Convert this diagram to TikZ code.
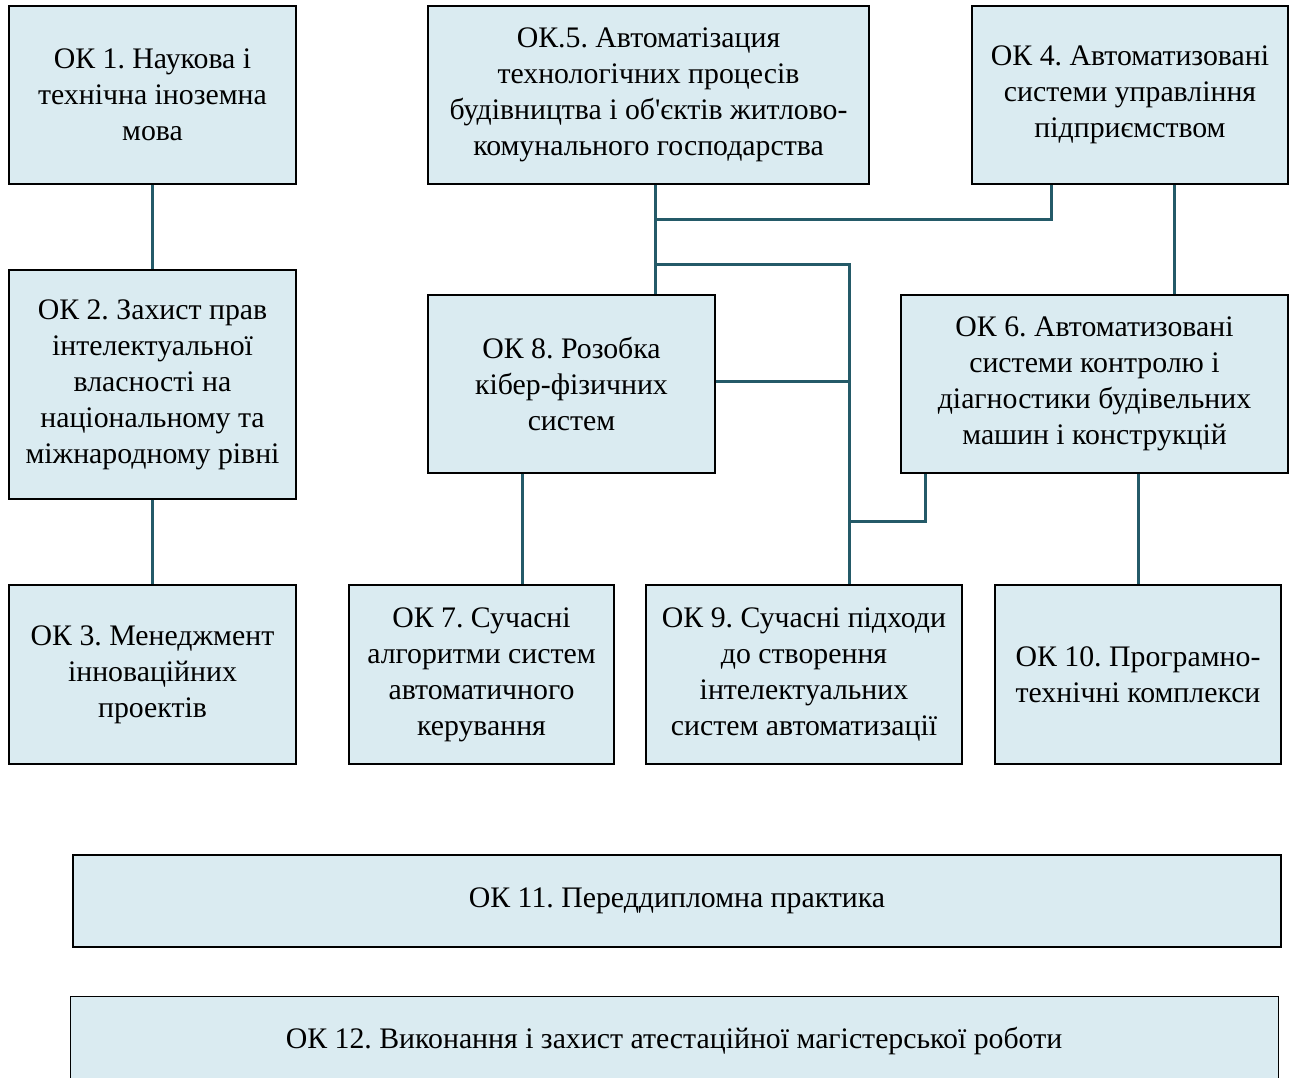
\documentclass[tikz,border=0pt]{standalone}
\usepackage{fontspec}
\setmainfont{Liberation Serif}[Ligatures=TeXOff]
\definecolor{boxfill}{RGB}{218,235,241}
\definecolor{conn}{RGB}{36,90,104}
\begin{document}
\frenchspacing
\begin{tikzpicture}[x=1pt,y=-1pt,
  box/.style={draw=black,line width=1.3pt,fill=boxfill,inner sep=0pt,align=center,
    font=\fontsize{29.8}{36}\selectfont},
  link/.style={draw=conn,line width=3pt}]
\useasboundingbox (0,0) rectangle (1293,1077);
\clip (0,0) rectangle (1293,1077);
\newcommand\bx[6]{\node[box,minimum width={#4-#2},minimum height={#5-#3}] (#1) at ({(#2+#4)/2},{(#3+#5)/2}) {#6};}
\bx{ok1}{9}{6}{296}{184}{ОК 1. Наукова і\\технічна іноземна\\мова}
\bx{ok2}{9}{270}{296}{499}{ОК 2. Захист прав\\інтелектуальної\\власності на\\національному та\\міжнародному рівні}
\bx{ok3}{9}{585}{296}{764}{ОК 3. Менеджмент\\інноваційних\\проектів}
\bx{ok5}{428}{6}{869}{184}{ОК.5. Автоматізация\\технологічних процесів\\будівництва і об'єктів житлово-\\комунального господарства}
\bx{ok4}{972}{6}{1288}{184}{ОК 4. Автоматизовані\\системи управління\\підприємством}
\bx{ok8}{428}{295}{715}{473}{ОК 8. Розобка\\кібер-фізичних\\систем}
\bx{ok6}{901}{295}{1288}{473}{ОК 6. Автоматизовані\\системи контролю і\\діагностики будівельних\\машин і конструкцій}
\bx{ok7}{349}{585}{614}{764}{ОК 7. Сучасні\\алгоритми систем\\автоматичного\\керування}
\bx{ok9}{646}{585}{962}{764}{ОК 9. Сучасні підходи\\до створення\\інтелектуальних\\систем автоматизації}
\bx{ok10}{995}{585}{1281}{764}{ОК 10. Програмно-\\технічні комплекси}
\bx{ok11}{73}{855}{1281}{947}{ОК 11. Переддипломна практика}
\node[box,minimum width=1208,minimum height=120,anchor=north west] (ok12) at (70,996) {};
\node[font=\fontsize{29.8}{36}\selectfont,anchor=base] (ok12t) at (674,1048) {ОК 12. Виконання і захист атестаційної магістерської роботи};
% connectors
\coordinate (j1) at (655,219);
\coordinate (j2) at (655,264);
\coordinate (j3) at (849,264);
\coordinate (j4) at (849,381);
\coordinate (j5) at (849,521);
\coordinate (j6) at (925,521);
\coordinate (j7) at (1051,219);
\path[link] (ok1.south) -- (ok2.north);
\path[link] (ok2.south) -- (ok3.north);
\path[link] (ok5.south -| j1) -- (ok8.north -| j1);
\path[link] (j1) -- (j7) -- (ok4.south -| j7);
\path[link] (j2) -- (j3) -- (ok9.north -| j3);
\path[link] (ok8.east |- j4) -- (j4);
\path[link] (j5) -- (j6) -- (ok6.south -| j6);
\path[link] (ok4.south -| 1174,0) -- (ok6.north -| 1174,0);
\path[link] (ok8.south -| 522,0) -- (ok7.north -| 522,0);
\path[link] (ok6.south -| 1138,0) -- (ok10.north -| 1138,0);
\end{tikzpicture}
\end{document}
